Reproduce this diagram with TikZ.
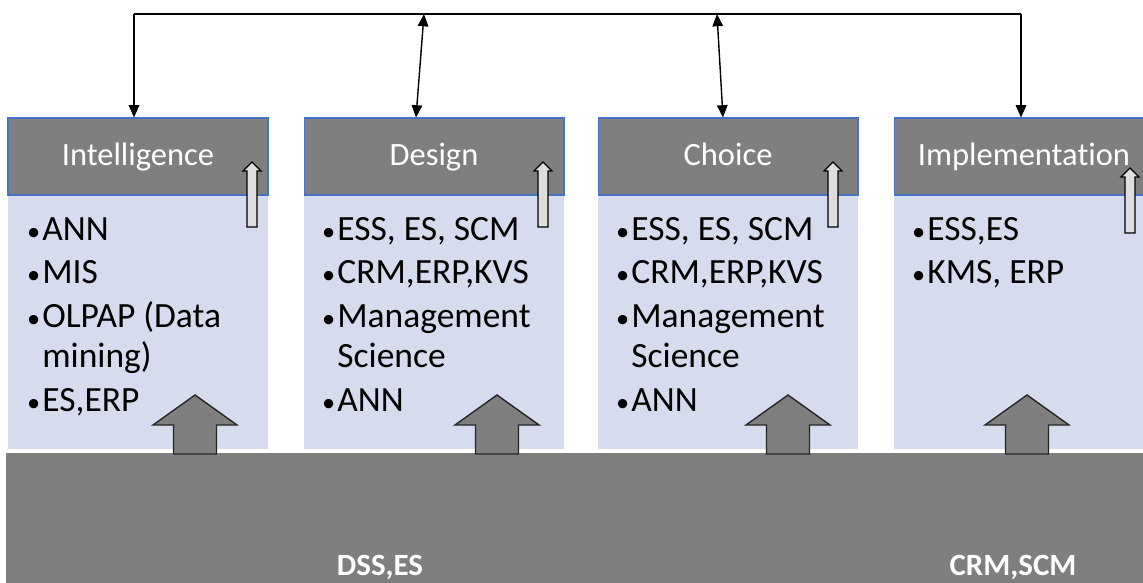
\documentclass[tikz,border=0pt]{standalone}
\usepackage{fontspec}
\setmainfont{Carlito}[Ligatures=NoCommon]
\usepackage{xcolor}
\usepackage{tikz}
\usetikzlibrary{arrows.meta, positioning, calc}

\definecolor{hdrgray}{RGB}{127,127,127}
\definecolor{bodyblue}{RGB}{214,219,237}
\definecolor{edgeblue}{RGB}{68,114,196}
\definecolor{tipgray}{RGB}{222,222,222}

%% bullet line with hanging indent
\newcommand{\bitem}[1]{\hangindent=0.34cm\hangafter=1\noindent
  \makebox[0.34cm][l]{\hspace{1pt}\fontsize{15}{15}\selectfont\textbullet}#1\par}

\begin{document}
\begin{tikzpicture}[x=0.02cm, y=-0.02cm,
  hbox/.style={rectangle, draw=edgeblue, fill=hdrgray, line width=0.6pt,
               minimum width=5.2cm, minimum height=1.54cm, inner sep=0pt,
               text height=14pt, text depth=3.2pt,
               text=white, font=\fontsize{18.5}{22}\selectfont},
  bbox/.style={rectangle, fill=bodyblue, minimum width=5.2cm, minimum height=5.06cm,
               inner sep=0pt, anchor=north},
  ltext/.style={text width=4.8cm, align=flush left, inner sep=0pt, anchor=base west,
                font=\fontsize{20.2}{22.7}\selectfont},
  btext/.style={text=white, anchor=base, inner sep=0pt, font=\fontsize{17.6}{20}\selectfont\bfseries},
  arr/.style={-{Triangle[length=7pt,width=6pt]}, line width=0.8pt},
  darr/.style={{Triangle[length=7pt,width=6pt]}-{Triangle[length=7pt,width=6pt]}, line width=0.8pt},
  bigarr/.style={fill=hdrgray, draw=black!85, line width=0.8pt},
  smallarr/.style={fill=tipgray, draw=black, line width=0.7pt}
]
\useasboundingbox (0,0) rectangle (1143,582);
\clip (0,0) rectangle (1143,582);
%% Phase headers
\node[hbox] (hInt) at (138,156.5) {Intelligence};
\node[hbox] (hDes) at (434,156.5) {Design};
\node[hbox] (hCho) at (728,156.5) {Choice};
\node[hbox] (hImp) at (1024,156.5) {Implementation};
%% Phase bodies
\node[bbox] (bInt) at (hInt.south) {};
\node[bbox] (bDes) at (hDes.south) {};
\node[bbox] (bCho) at (hCho.south) {};
\node[bbox] (bImp) at (hImp.south) {};
%% Tools per phase
\node[ltext] (tInt) at (25,240)
  {\setlength{\parskip}{2.3pt}\bitem{ANN}\bitem{MIS}\bitem{OLPAP (Data\newline mining)}\bitem{ES,ERP}};
\node[ltext] (tDes) at (320,240)
  {\setlength{\parskip}{2.3pt}\bitem{ESS, ES, SCM}\bitem{CRM,ERP,KVS}\bitem{Management\newline Science}\bitem{ANN}};
\node[ltext] (tCho) at (614,240)
  {\setlength{\parskip}{2.3pt}\bitem{ESS, ES, SCM}\bitem{CRM,ERP,KVS}\bitem{Management\newline Science}\bitem{ANN}};
\node[ltext] (tImp) at (910,240)
  {\setlength{\parskip}{2.3pt}\bitem{ESS,ES}\bitem{KMS, ERP}};
%% Base layer
\fill[hdrgray] (6,453) rectangle (1160,600);
\node[btext] (lDss) at (380,575) {DSS,ES};
\node[btext] (lCrm) at (1013,575) {CRM,SCM};
%% Support arrows from the base
\foreach \cx in {195,497,788,1027}
  \draw[bigarr] (\cx-21.5,454) -- (\cx-21.5,425) -- (\cx-42,425) -- (\cx,395)
    -- (\cx+42,425) -- (\cx+21.5,425) -- (\cx+21.5,454) -- cycle;
%% Small feedback arrows
\foreach \cx/\ty in {252/162,543/162,833/162,1130/168}
  \draw[smallarr] (\cx-5,\ty+65) -- (\cx-5,\ty+9) -- (\cx-9,\ty+9) -- (\cx,\ty)
    -- (\cx+9,\ty+9) -- (\cx+5,\ty+9) -- (\cx+5,\ty+65) -- cycle;
%% Top loop
\coordinate (busL) at (134,14);
\coordinate (busR) at (1021,14);
\coordinate (busD) at (424,14);
\coordinate (busC) at (717,14);
\draw[line width=0.8pt] (busL) -- (busR);
\draw[arr] (busL) -- (busL |- hInt.north);
\draw[arr] (busR) -- (busR |- hImp.north);
\draw[darr] (busD) -- ($(hDes.north)+(-18,0)$);
\draw[darr] (busC) -- ($(hCho.north)+(-5,0)$);
\end{tikzpicture}
\end{document}
